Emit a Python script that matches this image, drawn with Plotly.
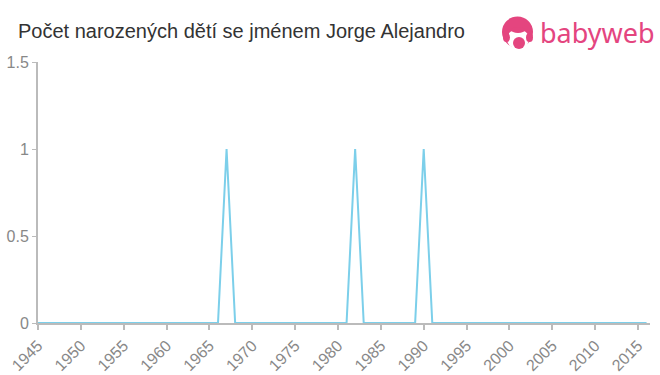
import plotly.graph_objects as go

years = list(range(1945, 2017))
spike_years = [1967, 1982, 1990]
values = [1 if y in spike_years else 0 for y in years]

title_text = "Počet narozených dětí se jménem Jorge Alejandro"
x_ticks = list(range(1945, 2016, 5))
y_ticks = [0, 0.5, 1, 1.5]
y_tick_labels = ["0", "0.5", "1", "1.5"]

W, H = 660, 375
L, R, T, B = 38, 10, 62, 52
PW, PH = W - L - R, H - T - B


def px(x):
    return (x - L) / PW


def py(y):
    return (H - B - y) / PH


fig = go.Figure()
fig.add_trace(go.Scatter(x=years, y=values, mode="lines",
                         line=dict(color="#7ccfea", width=2), hoverinfo="skip"))

fig.update_layout(
    width=W, height=H,
    margin=dict(l=L, r=R, t=T, b=B, autoexpand=False),
    paper_bgcolor="white", plot_bgcolor="white",
    showlegend=False,
    font=dict(family="Liberation Sans, Arial, sans-serif", color="#888888"),
    title=dict(text=title_text, x=18 / W, xanchor="left", y=1 - 31 / H, yanchor="middle",
               xref="container", yref="container", automargin=False,
               font=dict(size=20, color="#333333", family="Liberation Sans, Arial, sans-serif")),
)

fig.update_xaxes(range=[1945, 2016.4], tickvals=x_ticks, ticktext=[str(t) for t in x_ticks],
                 tickangle=-45, ticks="outside", ticklen=5, tickcolor="#bbbbbb", tickwidth=2,
                 showline=True, linecolor="#bbbbbb", linewidth=2, showgrid=False, zeroline=False,
                 automargin=False,
                 tickfont=dict(size=16, color="#888888"), fixedrange=True)
fig.update_yaxes(range=[0, 1.5], tickvals=y_ticks, ticktext=y_tick_labels,
                 ticks="outside", ticklen=4, tickcolor="#bbbbbb", tickwidth=1,
                 showline=True, linecolor="#bbbbbb", linewidth=2, showgrid=False, zeroline=False,
                 automargin=False,
                 tickfont=dict(size=16, color="#888888"), fixedrange=True)

# babyweb logo
pink = "#e4457f"
def circ(x0, y0, x1, y1, color):
    fig.add_shape(type="circle", xref="paper", yref="paper",
                  x0=px(x0), x1=px(x1), y0=py(y1), y1=py(y0),
                  fillcolor=color, line=dict(width=0), layer="above")

circ(502, 16.5, 533, 47.5, pink)          # hair / head
circ(507, 29, 529, 49, "white")           # face
circ(511, 27, 525, 33, pink)              # bangs
circ(503, 33, 510, 42, pink)              # left cheek
circ(526, 33, 533, 42, pink)              # right cheek
circ(513, 37, 525, 49, pink)              # body
fig.add_annotation(text="babyweb", xref="paper", yref="paper",
                   x=px(538), y=py(33), xanchor="left", yanchor="middle",
                   showarrow=False, font=dict(size=27, color=pink,
                                              family="Noto Sans, Open Sans, sans-serif"))

fig.write_html("out.html")
